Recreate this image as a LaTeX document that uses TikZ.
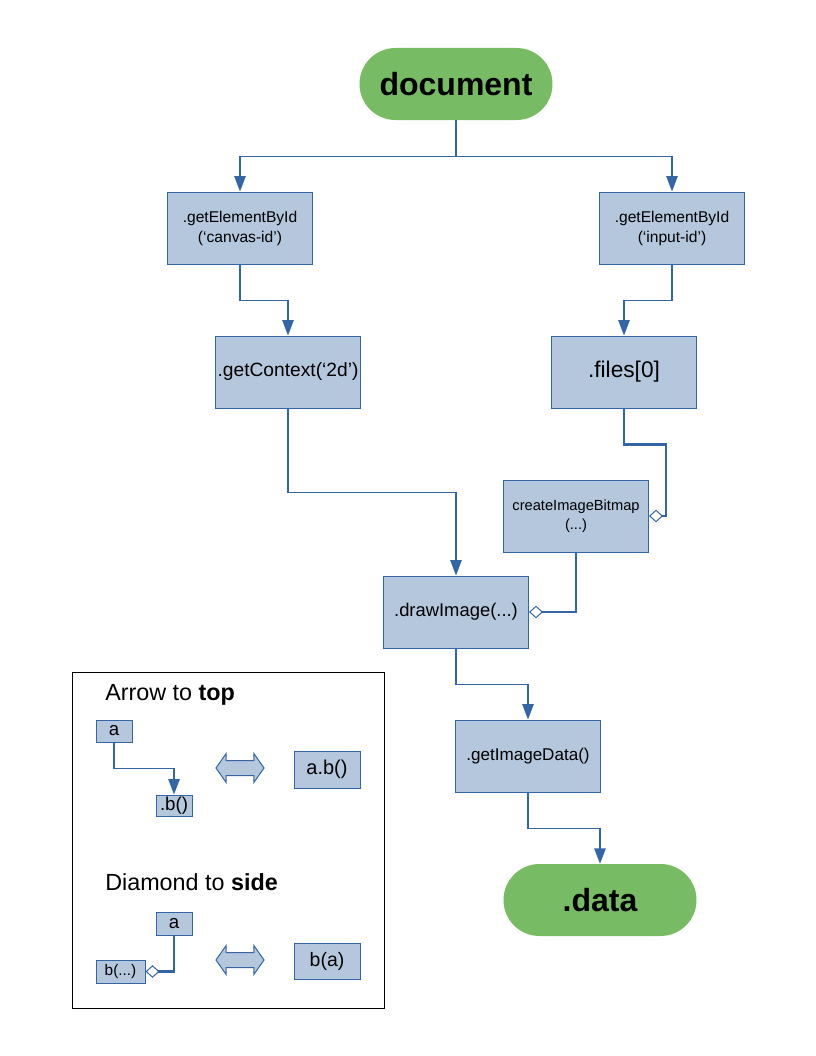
\documentclass[tikz,border=0pt]{standalone}
\usepackage{fontspec}
\setmainfont{Liberation Sans}
\usetikzlibrary{arrows.meta,shapes.arrows}
\definecolor{lineblue}{RGB}{52,101,164}
\definecolor{boxblue}{RGB}{180,199,220}
\definecolor{termgreen}{RGB}{119,188,101}

\begin{document}
\begin{tikzpicture}[x=0.75pt,y=-0.75pt,
  call/.style={draw=lineblue,fill=boxblue,line width=0.75pt,minimum width=108.75pt,minimum height=54pt,align=center,inner sep=1pt},
  term/.style={fill=termgreen,rounded corners=27pt,minimum width=144.75pt,minimum height=54pt,font=\fontsize{24}{28}\selectfont\bfseries},
  flow/.style={draw=lineblue,line width=1pt,-{Triangle[length=11.5pt,width=8.5pt]}},
  arg/.style={draw=lineblue,line width=2pt,-{Diamond[fill=white,line width=0.75pt,length=10.5pt,width=9.5pt]}},
  key/.style={draw=lineblue,fill=boxblue,line width=0.75pt,inner sep=0pt},
  swap/.style={double arrow,draw=lineblue,fill=boxblue,line width=0.75pt,inner sep=5.25pt,
    double arrow head extend=5.25pt,double arrow tip angle=110,minimum height=36pt}]
\useasboundingbox (0,0) rectangle (816,1056);
% main chain
\node[term] (doc) at (456,84) {document};
\node[call,font=\fontsize{11.7}{15}\selectfont] (canvas) at (240,228) {.getElementById\\(‘canvas-id’)};
\node[call,font=\fontsize{11.7}{15}\selectfont] (input) at (672,228) {.getElementById\\(‘input-id’)};
\node[call,font=\fontsize{14.4}{17}\selectfont] (ctx) at (288,372) {.getContext(‘2d’)};
\node[call,font=\fontsize{17}{20}\selectfont] (files) at (624,372) {.files[0]};
\node[call,font=\fontsize{11}{14}\selectfont] (bitmap) at (576,516) {createImageBitmap\\(...)};
\node[call,font=\fontsize{13.8}{16}\selectfont] (drawimg) at (456,612) {.drawImage(...)};
\node[call,font=\fontsize{12.8}{15}\selectfont] (imgdata) at (528,756) {.getImageData()};
\node[term] (data) at (600,900) {.data};
\draw[flow] (doc.south) -- ++(0,36) -| (canvas.north);
\draw[flow] (doc.south) -- ++(0,36) -| (input.north);
\draw[flow] (canvas.south) -- ++(0,36) -| (ctx.north);
\draw[flow] (input.south) -- ++(0,36) -| (files.north);
\draw[flow] (ctx.south) -- ++(0,84) -| (drawimg.north);
\draw[arg] (files.south) |- ++(42,36) |- (bitmap.east);
\draw[arg] (bitmap.south) |- (drawimg.east);
\draw[flow] (drawimg.south) -- ++(0,36) -| (imgdata.north);
\draw[flow] (imgdata.south) -- ++(0,36) -| (data.north);
% legend
\node[draw=black,line width=0.75pt,minimum width=234pt,minimum height=252pt] (legend) at (228,840) {};
\node[anchor=west,inner sep=0pt,font=\fontsize{17.5}{20}\selectfont] (toptitle) at (105,695) {Arrow to \textbf{top}};
\node[key,minimum width=27pt,minimum height=16.5pt,font=\fontsize{14}{16}\selectfont] (ka) at (114,731) {a};
\node[key,minimum width=27pt,minimum height=15.75pt,font=\fontsize{14}{16}\selectfont] (kb) at (174,805.5) {.b()};
\node[swap] (swap1) at (240,768) {};
\node[key,minimum width=49.5pt,minimum height=27.75pt,font=\fontsize{15}{17}\selectfont] (kab) at (327,769.5) {a.b()};
\draw[flow] (ka.south) -- ++(0,26) -| (kb.north);
\node[anchor=west,inner sep=0pt,font=\fontsize{17.5}{20}\selectfont] (sidetitle) at (105,882) {Diamond to \textbf{side}};
\node[key,minimum width=27pt,minimum height=17.25pt,font=\fontsize{14}{16}\selectfont] (kc) at (174,923.5) {a};
\node[key,minimum width=36.75pt,minimum height=17.25pt,font=\fontsize{11.5}{13}\selectfont] (kd) at (120.5,971.5) {b(...)};
\node[swap] (swap2) at (240,960) {};
\node[key,minimum width=49.5pt,minimum height=27pt,font=\fontsize{14.6}{17}\selectfont] (kba) at (327,961) {b(a)};
\draw[arg] (kc.south) |- (kd.east);
\end{tikzpicture}
\end{document}
